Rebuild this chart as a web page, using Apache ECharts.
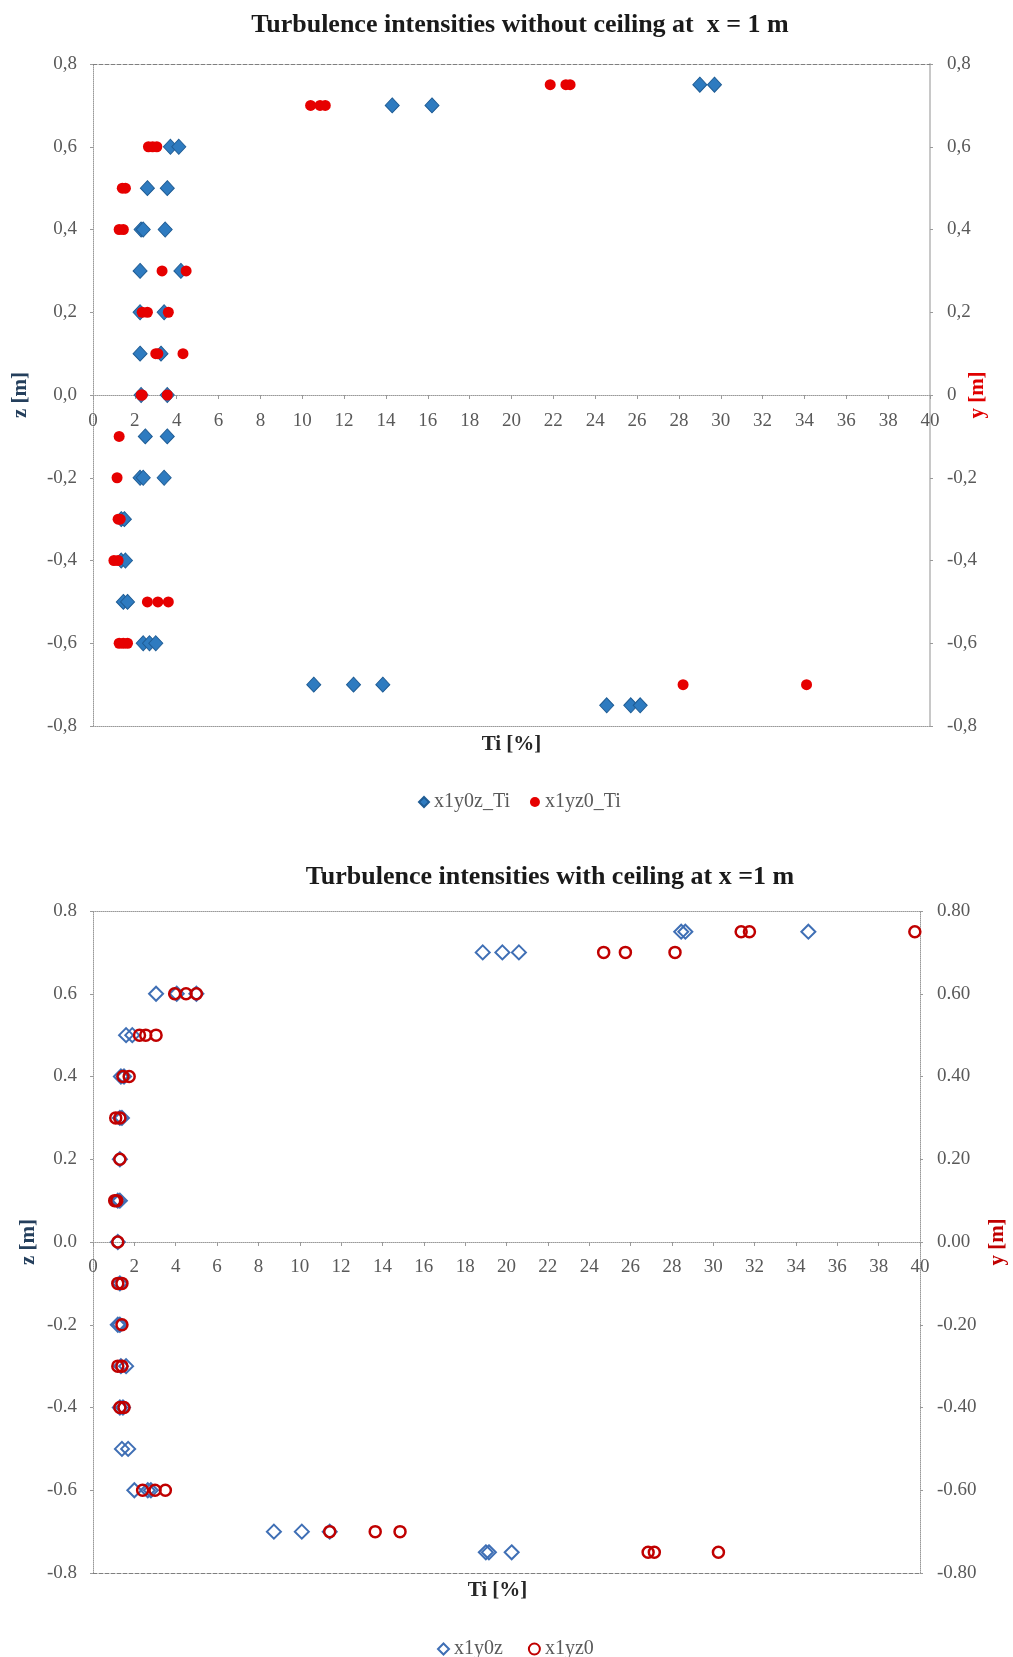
<!DOCTYPE html>
<html>
<head>
<meta charset="utf-8">
<script src="https://cdn.jsdelivr.net/npm/echarts@6/dist/echarts.min.js"></script>
<style>
html,body{margin:0;padding:0;background:#fff;}
#c{width:1013px;height:1657px;}
</style>
</head>
<body>
<div id="c"></div>
<script>
// ---------- DATA ----------
const title1 = 'Turbulence intensities without ceiling at  x = 1 m';
const title2 = 'Turbulence intensities with ceiling at x =1 m';

// Chart 1 (without ceiling)
const c1BlueName = 'x1y0z_Ti';
const c1BlueZ  = [0.75,0.75, 0.7,0.7, 0.6,0.6, 0.5,0.5, 0.4,0.4,0.4, 0.3,0.3, 0.2,0.2, 0.1,0.1, 0,0, -0.1,-0.1, -0.2,-0.2,-0.2, -0.3,-0.3, -0.4,-0.4, -0.5,-0.5, -0.6,-0.6,-0.6, -0.7,-0.7,-0.7, -0.75,-0.75,-0.75];
const c1BlueTi = [29.0,29.7, 14.3,16.2, 3.7,4.1, 2.6,3.55, 2.3,2.4,3.45, 2.25,4.2, 2.25,3.4, 2.25,3.25, 2.3,3.55, 2.5,3.55, 2.25,2.4,3.4, 1.35,1.5, 1.35,1.55, 1.45,1.65, 2.4,2.7,3.0, 10.55,12.45,13.85, 24.55,25.7,26.15];

const c1RedName = 'x1yz0_Ti';
const c1RedY  = [0.75,0.75,0.75, 0.7,0.7,0.7, 0.6,0.6,0.6, 0.5,0.5, 0.4,0.4, 0.3,0.3, 0.2,0.2,0.2, 0.1,0.1,0.1, 0,0,0, -0.1, -0.2, -0.3,-0.3, -0.4,-0.4, -0.5,-0.5,-0.5, -0.6,-0.6,-0.6, -0.7,-0.7];
const c1RedTi = [21.85,22.6,22.8, 10.4,10.85,11.1, 2.65,2.85,3.05, 1.4,1.55, 1.25,1.45, 3.3,4.45, 2.35,2.6,3.6, 3.0,3.1,4.3, 2.3,2.35,3.55, 1.25, 1.15, 1.2,1.3, 1.0,1.2, 2.6,3.1,3.6, 1.25,1.45,1.65, 28.2,34.1];

// Chart 2 (with ceiling)
const c2BlueName = 'x1y0z';
const c2BlueZ  = [0.75,0.75,0.75, 0.7,0.7,0.7, 0.6,0.6,0.6, 0.5,0.5, 0.4,0.4, 0.3,0.3, 0.2, 0.1,0.1, 0, -0.1, -0.2,-0.2, -0.3,-0.3, -0.4,-0.4, -0.5,-0.5, -0.6,-0.6,-0.6, -0.7,-0.7,-0.7, -0.75,-0.75,-0.75];
const c2BlueTi = [28.45,28.65,34.6, 18.85,19.8,20.6, 3.05,4.05,5.0, 1.6,1.9, 1.35,1.5, 1.3,1.4, 1.3, 1.2,1.3, 1.2, 1.3, 1.2,1.3, 1.35,1.6, 1.3,1.45, 1.4,1.7, 2.0,2.65,2.8, 8.75,10.1,11.45, 19.0,19.15,20.25];

const c2RedName = 'x1yz0';
const c2RedY  = [0.75,0.75,0.75, 0.7,0.7,0.7, 0.6,0.6,0.6, 0.5,0.5,0.5, 0.4,0.4, 0.3,0.3, 0.2, 0.1,0.1, 0, -0.1,-0.1, -0.2, -0.3,-0.3, -0.4,-0.4, -0.6,-0.6,-0.6, -0.7,-0.7,-0.7, -0.75,-0.75,-0.75];
const c2RedTi = [31.35,31.75,39.75, 24.7,25.75,28.15, 3.95,4.5,5.0, 2.25,2.55,3.05, 1.45,1.75, 1.1,1.3, 1.3, 1.05,1.15, 1.2, 1.2,1.4, 1.4, 1.2,1.4, 1.3,1.5, 2.4,3.0,3.5, 11.45,13.65,14.85, 26.85,27.15,30.25];

// Tick labels
const xTicks = ['0','2','4','6','8','10','12','14','16','18','20','22','24','26','28','30','32','34','36','38','40'];
const yTicks1Left  = ['-0,8','-0,6','-0,4','-0,2','0,0','0,2','0,4','0,6','0,8'];
const yTicks1Right = ['-0,8','-0,6','-0,4','-0,2','0','0,2','0,4','0,6','0,8'];
const yTicks2Left  = ['-0.8','-0.6','-0.4','-0.2','0.0','0.2','0.4','0.6','0.8'];
const yTicks2Right = ['-0.80','-0.60','-0.40','-0.20','0.00','0.20','0.40','0.60','0.80'];

const xAxisName = 'Ti [%]';
const yLeftName = 'z [m]';
const yRightName = 'y [m]';

// ---------- BUILD ----------
const pairs = (xs, ys) => xs.map((x, i) => [x, ys[i]]);
const FONT = 'Liberation Serif';
const LABEL_COLOR = '#595959';
const GRID_H = 662;
const xFmt = v => xTicks[Math.round(v / 2)];
const yFmt = arr => v => arr[Math.round((v + 0.8) / 0.2)];

function gridAxes(gi, leftLabels, rightLabels, opts) {
  const xs = [
    { // main x-axis through the middle (z = 0)
      type: 'value', gridIndex: gi, min: 0, max: 40, interval: 2, position: 'bottom',
      offset: -GRID_H / 2,
      axisLine: { show: true, onZero: false, lineStyle: { color: '#9a9a9a', type: 'dotted', width: 1 } },
      axisTick: { show: true, length: 4, lineStyle: { color: '#9a9a9a' } },
      axisLabel: { margin: opts.xLabelMargin, fontSize: 19, color: LABEL_COLOR, fontFamily: FONT, formatter: xFmt },
      splitLine: { show: false }
    },
    { // top border
      type: 'value', gridIndex: gi, min: 0, max: 40, interval: 2, position: 'top',
      axisLine: { show: true, onZero: false, lineStyle: { color: opts.topColor, type: opts.topType, width: 1 } },
      axisTick: { show: false }, axisLabel: { show: false }, splitLine: { show: false }
    },
    { // bottom border + name
      type: 'value', gridIndex: gi, min: 0, max: 40, interval: 2, position: 'bottom',
      axisLine: { show: true, onZero: false, lineStyle: { color: opts.bottomColor, type: opts.bottomType, width: 1 } },
      axisTick: { show: false }, axisLabel: { show: false }, splitLine: { show: false },
      name: xAxisName, nameLocation: 'middle', nameGap: opts.xNameGap, nameMoveOverlap: false,
      nameTextStyle: { fontSize: 21, fontWeight: 'bold', color: '#262626', fontFamily: FONT, padding: [0, opts.xNameShift || 0, 0, 0] }
    }
  ];
  const ys = [
    {
      type: 'value', gridIndex: gi, min: -0.8, max: 0.8, interval: 0.2, position: 'left',
      axisLine: { show: true, onZero: false, lineStyle: { color: '#9a9a9a', type: 'dotted', width: 1 } },
      axisTick: { show: true, length: 3, lineStyle: { color: '#9a9a9a' } },
      axisLabel: { margin: 16, fontSize: 19, color: LABEL_COLOR, fontFamily: FONT, formatter: yFmt(leftLabels) },
      splitLine: { show: false },
      name: yLeftName, nameLocation: 'middle', nameRotate: 90, nameGap: opts.leftNameGap, nameMoveOverlap: false,
      nameTextStyle: { fontSize: 21, fontWeight: 'bold', color: '#243F5C', fontFamily: FONT }
    },
    {
      type: 'value', gridIndex: gi, min: -0.8, max: 0.8, interval: 0.2, position: 'right',
      axisLine: { show: true, onZero: false, lineStyle: { color: opts.rightColor, type: opts.rightType, width: opts.rightWidth } },
      axisTick: { show: true, length: 3, lineStyle: { color: '#9a9a9a' } },
      axisLabel: { margin: 17, fontSize: 19, color: LABEL_COLOR, fontFamily: FONT, formatter: yFmt(rightLabels) },
      splitLine: { show: false },
      name: yRightName, nameLocation: 'middle', nameRotate: 90, nameGap: opts.rightNameGap, nameMoveOverlap: false,
      nameTextStyle: { fontSize: 21, fontWeight: 'bold', color: opts.rightNameColor, fontFamily: FONT }
    }
  ];
  return { xs, ys };
}

const a1 = gridAxes(0, yTicks1Left, yTicks1Right, {
  topColor: '#7f7f7f', topType: 'dashed', bottomColor: '#9a9a9a', bottomType: 'dotted',
  rightColor: '#c8c8c8', rightType: 'solid', rightWidth: 2, rightNameColor: '#E00000',
  xNameGap: 8, leftNameGap: 62, rightNameGap: 37, xLabelMargin: 17
});
const a2 = gridAxes(1, yTicks2Left, yTicks2Right, {
  topColor: '#9a9a9a', topType: 'dotted', bottomColor: '#7f7f7f', bottomType: 'dashed',
  rightColor: '#9a9a9a', rightType: 'dotted', rightWidth: 1, rightNameColor: '#C00000',
  xNameGap: 7, leftNameGap: 54, rightNameGap: 67, xNameShift: 18, xLabelMargin: 16
});

const option = {
  animation: false,
  backgroundColor: '#ffffff',
  textStyle: { fontFamily: FONT },
  title: [
    { text: title1, left: 520, top: 12, textAlign: 'center', padding: 0,
      textStyle: { fontSize: 26, fontWeight: 'bold', color: '#1a1a1a', fontFamily: FONT } },
    { text: title2, left: 550, top: 864, textAlign: 'center', padding: 0,
      textStyle: { fontSize: 26, fontWeight: 'bold', color: '#1a1a1a', fontFamily: FONT } }
  ],
  legend: [
    { left: 418, top: 792, padding: 0, itemGap: 20, itemWidth: 10, itemHeight: 10,
      textStyle: { fontSize: 20, color: LABEL_COLOR, fontFamily: FONT },
      data: [{ name: c1BlueName, icon: 'diamond' }, { name: c1RedName, icon: 'circle' }] },
    { left: 437, top: 1639, padding: 0, itemGap: 25, itemWidth: 11, itemHeight: 11,
      textStyle: { fontSize: 20, color: LABEL_COLOR, fontFamily: FONT },
      data: [{ name: c2BlueName, icon: 'diamond' }, { name: c2RedName, icon: 'circle' }] }
  ],
  grid: [
    { left: 93, top: 64, width: 837, height: GRID_H, containLabel: false, outerBoundsMode: 'none' },
    { left: 93, top: 911, width: 827, height: GRID_H, containLabel: false, outerBoundsMode: 'none' }
  ],
  xAxis: a1.xs.concat(a2.xs),
  yAxis: a1.ys.concat(a2.ys),
  series: [
    { name: c1BlueName, type: 'scatter', xAxisIndex: 0, yAxisIndex: 0, symbol: 'diamond', symbolSize: [14, 15],
      itemStyle: { color: '#2E7BC0', borderColor: '#1F5C94', borderWidth: 1, opacity: 1 },
      data: pairs(c1BlueTi, c1BlueZ), clip: false },
    { name: c1RedName, type: 'scatter', xAxisIndex: 0, yAxisIndex: 1, symbol: 'circle', symbolSize: 11,
      itemStyle: { color: '#E60000', opacity: 1 },
      data: pairs(c1RedTi, c1RedY), clip: false },
    { name: c2BlueName, type: 'scatter', xAxisIndex: 3, yAxisIndex: 2, symbol: 'diamond', symbolSize: 14,
      itemStyle: { color: 'rgba(255,255,255,0)', borderColor: '#3F6FB5', borderWidth: 2, opacity: 1 },
      data: pairs(c2BlueTi, c2BlueZ), clip: false },
    { name: c2RedName, type: 'scatter', xAxisIndex: 3, yAxisIndex: 3, symbol: 'circle', symbolSize: 11,
      itemStyle: { color: 'rgba(255,255,255,0)', borderColor: '#C00000', borderWidth: 2.5, opacity: 1 },
      data: pairs(c2RedTi, c2RedY), clip: false }
  ]
};

const chart = echarts.init(document.getElementById('c'), null, { renderer: 'canvas', width: 1013, height: 1657 });
chart.setOption(option);
</script>
</body>
</html>
